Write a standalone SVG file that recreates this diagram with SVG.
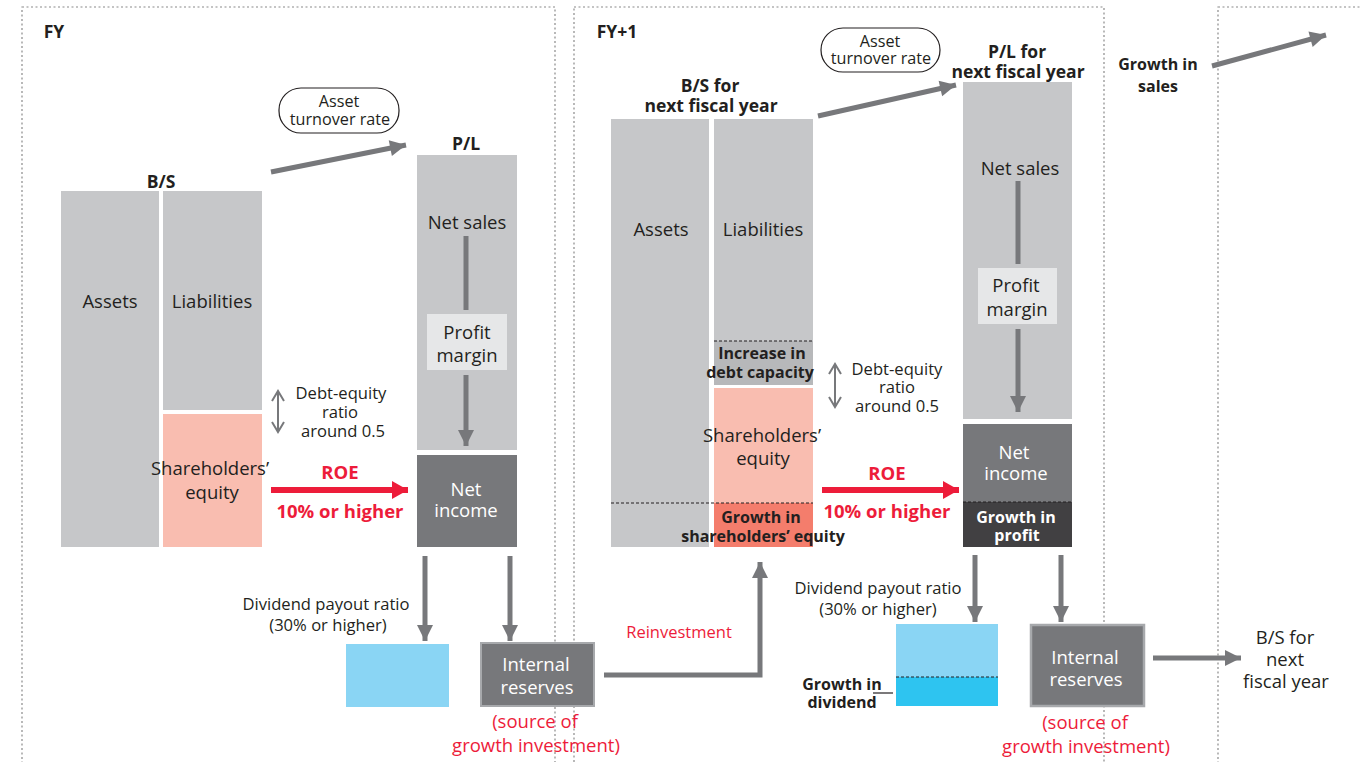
<svg xmlns="http://www.w3.org/2000/svg" width="1361" height="762" viewBox="0 0 1361 762">
<defs>
<marker id="ah" markerUnits="userSpaceOnUse" markerWidth="20" markerHeight="20" viewBox="0 0 20 20" refX="18" refY="10" orient="auto"><path d="M2,2 L18,10 L2,18 Z" fill="#77787b"/></marker>
<marker id="ahr" markerUnits="userSpaceOnUse" markerWidth="20" markerHeight="20" viewBox="0 0 20 20" refX="18" refY="10" orient="auto"><path d="M2,1 L18,10 L2,19 Z" fill="#ed1c3a"/></marker>
<marker id="ahs" markerUnits="userSpaceOnUse" markerWidth="14" markerHeight="14" viewBox="0 0 14 14" refX="12" refY="7" orient="auto"><path d="M2,1 L12,7 L2,13" fill="none" stroke="#77787b" stroke-width="2"/></marker>
<marker id="ahs0" markerUnits="userSpaceOnUse" markerWidth="14" markerHeight="14" viewBox="0 0 14 14" refX="12" refY="7" orient="auto-start-reverse"><path d="M2,1 L12,7 L2,13" fill="none" stroke="#77787b" stroke-width="2"/></marker>
</defs>
<style>
text{font-family:"Open Sans","Noto Sans","Liberation Sans",sans-serif;fill:#231f20;text-anchor:middle}
.b{font-weight:bold}
.t{font-size:17.5px}
.s{font-size:16.6px}
.p{font-size:16.2px}
.m{font-size:18.5px}
.sb{font-size:16px;font-weight:bold}
.w{fill:#fff}
.r{fill:#ed1c3a}
.panel{fill:none;stroke:#8a8a8a;stroke-width:1.2;stroke-dasharray:2,2.5}
.gr{fill:#c6c7c9}
.dk{fill:#77787b}
.pk{fill:#f9bdb0}
.dot{stroke:#231f20;stroke-width:1.2;stroke-dasharray:3,2;fill:none}
.ar{stroke:#77787b;stroke-width:5;fill:none;marker-end:url(#ah)}
.arr{stroke:#ed1c3a;stroke-width:6;fill:none;marker-end:url(#ahr)}
.dbl{stroke:#77787b;stroke-width:2;fill:none;marker-end:url(#ahs);marker-start:url(#ahs0)}
</style>
<rect width="1361" height="762" fill="#fff"/>
<g id="panels">
<rect class="panel" x="22" y="7" width="533" height="770"/>
<rect class="panel" x="574" y="7" width="530" height="770"/>
<rect class="panel" x="1218" y="7" width="200" height="770"/>
<text x="54" y="38" class="b t">FY</text>
<text x="617" y="38" class="b t">FY+1</text>
</g>
<g id="bs1">
<text x="161" y="188" class="b t">B/S</text>
<rect class="gr" x="61" y="191" width="98" height="356"/>
<rect class="gr" x="163" y="191" width="99" height="219"/>
<rect class="pk" x="163" y="414" width="99" height="133"/>
<text x="110" y="308" class="m">Assets</text>
<text x="212" y="308" class="m">Liabilities</text>
<text class="m"><tspan x="210" y="475">Shareholders’</tspan><tspan x="212" y="499">equity</tspan></text>
</g>
<g id="atr1">
<rect x="279" y="88" width="120" height="45" rx="22" fill="#fff" stroke="#231f20" stroke-width="1.2"/>
<text class="p"><tspan x="339" y="107">Asset</tspan><tspan x="340" y="125">turnover rate</tspan></text>
</g>
<g id="pl1">
<text x="466" y="150" class="b t">P/L</text>
<rect class="gr" x="417" y="155" width="100" height="295"/>
<text x="467" y="229" class="m">Net sales</text>
<rect x="427" y="314" width="80" height="56" fill="#e6e7e8"/>
<text class="m"><tspan x="467" y="339">Profit</tspan><tspan x="467" y="362">margin</tspan></text>
<rect class="dk" x="417" y="455" width="100" height="92"/>
<text class="m w"><tspan x="466" y="496">Net</tspan><tspan x="466" y="517">income</tspan></text>
</g>
<g id="de1">
<text class="s"><tspan x="341" y="399">Debt-equity</tspan><tspan x="340" y="418">ratio</tspan><tspan x="343" y="437">around 0.5</tspan></text>
</g>
<g id="roe1">
<text x="340" y="479" class="m b r">ROE</text>
<text x="340" y="518" class="m b r">10% or higher</text>
</g>
<g id="div1">
<text class="s"><tspan x="326" y="610">Dividend payout ratio</tspan><tspan x="328" y="631">(30% or higher)</tspan></text>
<rect x="346" y="644" width="103" height="63" fill="#8ad5f4"/>
</g>
<g id="ir1">
<rect x="481" y="643" width="113" height="63" class="dk" stroke="#a7a9ac" stroke-width="2"/>
<text class="m w"><tspan x="536" y="671">Internal</tspan><tspan x="537" y="694">reserves</tspan></text>
<text class="m r"><tspan x="535" y="728">(source of</tspan><tspan x="536" y="752">growth investment)</tspan></text>
</g>
<g id="bs2">
<text class="b t"><tspan x="710" y="92">B/S for</tspan><tspan x="711" y="112">next fiscal year</tspan></text>
<rect class="gr" x="611" y="119" width="98" height="428"/>
<rect class="gr" x="714" y="119" width="99" height="222"/>
<rect x="714" y="341" width="99" height="44" fill="#b7b8ba"/>
<rect class="pk" x="714" y="388" width="99" height="115"/>
<rect x="714" y="503" width="99" height="44" fill="#f47d6c"/>
<line class="dot" x1="714" y1="341" x2="813" y2="341"/>
<line class="dot" x1="611" y1="503" x2="813" y2="503"/>
<text x="661" y="236" class="m">Assets</text>
<text x="763" y="236" class="m">Liabilities</text>
<text class="sb"><tspan x="762" y="359">Increase in</tspan><tspan x="760" y="378">debt capacity</tspan></text>
<text class="m"><tspan x="762" y="442">Shareholders’</tspan><tspan x="763" y="465">equity</tspan></text>
<text class="sb"><tspan x="761" y="523">Growth in</tspan><tspan x="763" y="542">shareholders’ equity</tspan></text>
</g>
<g id="atr2">
<rect x="821" y="28" width="119" height="44" rx="22" fill="#fff" stroke="#231f20" stroke-width="1.2"/>
<text class="p"><tspan x="880" y="47">Asset</tspan><tspan x="881" y="64">turnover rate</tspan></text>
</g>
<g id="pl2">
<text class="b t"><tspan x="1017" y="58">P/L for</tspan><tspan x="1018" y="78">next fiscal year</tspan></text>
<rect class="gr" x="963" y="82" width="109" height="337"/>
<text x="1020" y="175" class="m">Net sales</text>
<rect x="978" y="268" width="79" height="56" fill="#e6e7e8"/>
<text class="m"><tspan x="1016" y="292">Profit</tspan><tspan x="1017" y="316">margin</tspan></text>
<rect class="dk" x="963" y="424" width="109" height="78"/>
<rect x="963" y="502" width="109" height="45" fill="#414042"/>
<line x1="963" y1="502" x2="1072" y2="502" stroke="#231f20" stroke-width="1.2" stroke-dasharray="3,2"/>
<text class="m w"><tspan x="1014" y="459">Net</tspan><tspan x="1016" y="480">income</tspan></text>
<text class="sb w"><tspan x="1016" y="523">Growth in</tspan><tspan x="1017" y="541">profit</tspan></text>
</g>
<g id="de2">
<text class="s"><tspan x="897" y="375">Debt-equity</tspan><tspan x="897" y="393">ratio</tspan><tspan x="897" y="412">around 0.5</tspan></text>
</g>
<g id="roe2">
<text x="887" y="480" class="m b r">ROE</text>
<text x="887" y="518" class="m b r">10% or higher</text>
</g>
<g id="div2">
<text class="s"><tspan x="878" y="594">Dividend payout ratio</tspan><tspan x="878" y="615">(30% or higher)</tspan></text>
<rect x="896" y="624" width="102" height="53" fill="#8ad5f4"/>
<rect x="896" y="677" width="102" height="29" fill="#2ec4f0"/>
<line class="dot" x1="896" y1="677" x2="998" y2="677"/>
<text class="sb"><tspan x="842" y="690">Growth in</tspan><tspan x="842" y="708">dividend</tspan></text>
<line x1="873" y1="693" x2="893" y2="693" stroke="#231f20" stroke-width="1.2"/>
</g>
<g id="ir2">
<rect x="1031" y="625" width="113" height="81" class="dk" stroke="#a7a9ac" stroke-width="2.5"/>
<text class="m w"><tspan x="1085" y="664">Internal</tspan><tspan x="1086" y="686">reserves</tspan></text>
<text class="m r"><tspan x="1085" y="729">(source of</tspan><tspan x="1086" y="753">growth investment)</tspan></text>
</g>
<g id="next">
<text class="m"><tspan x="1285" y="644">B/S for</tspan><tspan x="1285" y="666">next</tspan><tspan x="1286" y="688">fiscal year</tspan></text>
</g>
<g id="gs">
<text class="sb"><tspan x="1158" y="70">Growth in</tspan><tspan x="1158" y="92">sales</tspan></text>
</g>
<g id="connectors">
<line class="ar" x1="271" y1="172" x2="406" y2="145"/>
<line class="ar" x1="818" y1="116" x2="956" y2="85"/>
<line class="ar" x1="1212" y1="66" x2="1326" y2="35"/>
<line x1="466" y1="236" x2="466" y2="310" stroke="#77787b" stroke-width="5"/>
<line class="ar" x1="466" y1="375" x2="466" y2="446"/>
<line x1="1018" y1="181" x2="1018" y2="264" stroke="#77787b" stroke-width="5"/>
<line class="ar" x1="1018" y1="329" x2="1018" y2="412"/>
<line class="dbl" x1="278" y1="391" x2="278" y2="432"/>
<line class="dbl" x1="835" y1="364" x2="835" y2="407"/>
<line class="arr" x1="271" y1="490" x2="408" y2="490"/>
<line class="arr" x1="822" y1="490" x2="959" y2="490"/>
<line class="ar" x1="425" y1="556" x2="425" y2="641"/>
<line class="ar" x1="510" y1="556" x2="510" y2="641"/>
<line class="ar" x1="975" y1="555" x2="975" y2="622"/>
<line class="ar" x1="1061" y1="555" x2="1061" y2="622"/>
<polyline class="ar" points="604,675 760,675 760,562"/>
<line class="ar" x1="1153" y1="658" x2="1241" y2="658"/>
<text x="679" y="638" font-size="16.5" class="r">Reinvestment</text>
</g>
</svg>
